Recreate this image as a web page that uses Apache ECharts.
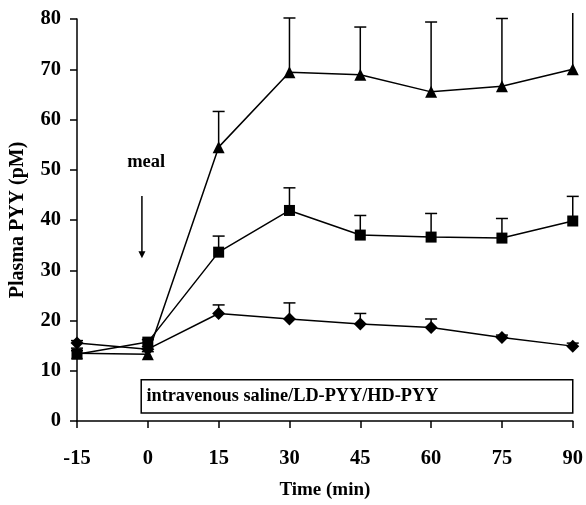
<!DOCTYPE html>
<html>
<head>
<meta charset="utf-8">
<script src="https://cdn.jsdelivr.net/npm/echarts@6/dist/echarts.min.js"></script>
<style>html,body{margin:0;padding:0;background:#fff}#c{width:586px;height:505px}</style>
</head>
<body>
<div id="c"></div>
<script>
const times = [-15, 0, 15, 30, 45, 60, 75, 90];
const salineMean = [15.5, 14.3, 21.4, 20.3, 19.3, 18.6, 16.6, 14.9];
const salineSE   = [0.5, 0.5, 1.7, 3.2, 2.1, 1.7, 0.5, 0.6];
const ldMean = [13.3, 15.7, 33.6, 41.9, 37.0, 36.6, 36.4, 39.8];
const ldSE   = [1.2, 0.5, 3.2, 4.5, 3.9, 4.7, 3.9, 4.9];
const hdMean = [13.5, 13.3, 54.5, 69.4, 68.9, 65.5, 66.6, 70.0];
const hdSE   = [0.5, 0.5, 7.1, 10.8, 9.5, 13.9, 13.5, 12.0];
const yTicks = [0, 10, 20, 30, 40, 50, 60, 70, 80];
const boxLabel = 'intravenous saline/LD-PYY/HD-PYY';
const mealLabel = 'meal';

const FONT = '"Liberation Serif", "Times New Roman", serif';
const chart = echarts.init(document.getElementById('c'));

function pairs(means) { return times.map((t, i) => [t, means[i]]); }
function errData(means, se) { return times.map((t, i) => [t, means[i] + se[i], means[i]]); }

function errSeries(means, se) {
  return {
    type: 'custom', clip: false, z: 1,
    data: errData(means, se),
    renderItem: function (params, api) {
      const x = api.value(0);
      const pm = api.coord([x, api.value(2)]);
      const pt = api.coord([x, api.value(1)]);
      const limit = api.coord([x, 80])[1] - 6;
      let topY = pt[1], cap = true;
      if (topY < limit) { topY = limit; cap = false; }
      const children = [{
        type: 'line', shape: { x1: pm[0], y1: pm[1], x2: pm[0], y2: topY },
        style: { stroke: '#000', lineWidth: 1.5 }
      }];
      if (cap) children.push({
        type: 'line', shape: { x1: pm[0] - 6, y1: topY, x2: pm[0] + 6, y2: topY },
        style: { stroke: '#000', lineWidth: 1.5 }
      });
      return { type: 'group', children: children };
    }
  };
}

function lineSeries(name, means, symbol, size) {
  return {
    name: name, type: 'line', data: pairs(means), symbol: symbol, symbolSize: size,
    z: 3, animation: false,
    lineStyle: { color: '#000', width: 1.5 },
    itemStyle: { color: '#000', borderWidth: 0 }
  };
}

const annotationSeries = {
  type: 'custom', clip: false, z: 2, silent: true,
  data: [[0]],
  renderItem: function (params, api) {
    const b0 = api.coord([-1.4, 8.2]);
    const b1 = api.coord([90, 1.6]);
    const tp = api.coord([-0.3, 4.9]);
    const a0 = api.coord([-1.25, 44.8]);
    const a1 = api.coord([-1.25, 32.4]);
    const mp = api.coord([-0.35, 51.4]);
    return {
      type: 'group',
      children: [
        { type: 'rect', shape: { x: b0[0], y: b0[1], width: b1[0] - b0[0], height: b1[1] - b0[1] },
          style: { fill: '#fff', stroke: '#000', lineWidth: 1.5 } },
        { type: 'text', style: { text: boxLabel, x: tp[0], y: tp[1], fill: '#000',
          font: 'bold 18.3px ' + FONT, align: 'left', verticalAlign: 'middle' } },
        { type: 'line', shape: { x1: a0[0], y1: a0[1], x2: a1[0], y2: a1[1] - 6 },
          style: { stroke: '#000', lineWidth: 1.5 } },
        { type: 'polygon', shape: { points: [[a1[0] - 3.5, a1[1] - 7], [a1[0] + 3.5, a1[1] - 7], [a1[0], a1[1]]] },
          style: { fill: '#000' } },
        { type: 'text', style: { text: mealLabel, x: mp[0], y: mp[1], fill: '#000',
          font: 'bold 18.5px ' + FONT, align: 'center', verticalAlign: 'middle' } }
      ]
    };
  }
};

chart.setOption({
  animation: false,
  backgroundColor: '#fff',
  grid: { left: 77, right: 10, top: 19, bottom: 83, containLabel: false },
  xAxis: {
    type: 'value', min: -15, max: 90, interval: 15,
    name: 'Time (min)', nameLocation: 'middle', nameGap: 60,
    nameTextStyle: { fontFamily: FONT, fontWeight: 'bold', fontSize: 19, color: '#000' },
    axisLine: { show: true, onZero: false, lineStyle: { color: '#000', width: 1.5 } },
    axisTick: { show: true, inside: false, length: 7, lineStyle: { color: '#000', width: 1.5 } },
    axisLabel: { margin: 27, fontFamily: FONT, fontWeight: 'bold', fontSize: 20.5, color: '#000' },
    splitLine: { show: false }
  },
  yAxis: {
    type: 'value', min: 0, max: 80, interval: 10,
    name: 'Plasma PYY (pM)', nameLocation: 'middle', nameGap: 49,
    nameTextStyle: { fontFamily: FONT, fontWeight: 'bold', fontSize: 20, color: '#000' },
    axisLine: { show: true, onZero: false, lineStyle: { color: '#000', width: 1.5 } },
    axisTick: { show: true, inside: false, length: 7, lineStyle: { color: '#000', width: 1.5 } },
    axisLabel: { margin: 16, fontFamily: FONT, fontWeight: 'bold', fontSize: 20.5, color: '#000',
      formatter: function (v) { return yTicks.indexOf(v) >= 0 ? String(v) : ''; } },
    splitLine: { show: false }
  },
  series: [
    annotationSeries,
    errSeries(salineMean, salineSE),
    errSeries(ldMean, ldSE),
    errSeries(hdMean, hdSE),
    lineSeries('saline', salineMean, 'diamond', 13),
    lineSeries('LD-PYY', ldMean, 'rect', 11),
    lineSeries('HD-PYY', hdMean, 'triangle', 12)
  ]
});
</script>
</body>
</html>
